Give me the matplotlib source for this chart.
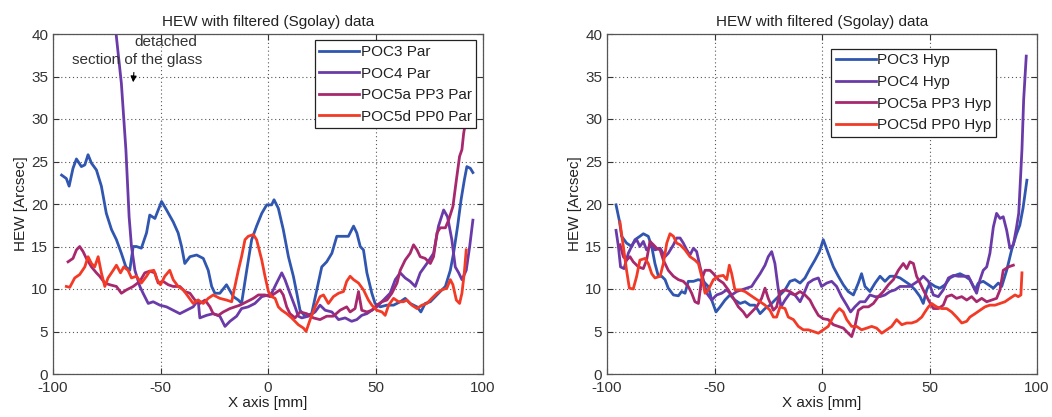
import matplotlib
matplotlib.use("Agg")
import matplotlib.pyplot as plt

plt.rcParams['font.family'] = ['Liberation Sans', 'DejaVu Sans']
plt.rcParams['axes.unicode_minus'] = False

# ---- left panel: parabola (Par) ----
par_poc3_x = [-96.0, -93.8, -92.5, -90.7, -89.1, -86.8, -85.2, -83.7, -82.1, -79.8, -77.5, -75.2,
              -72.8, -70.5, -68.2, -66.1, -64.3, -62.7, -61.2, -58.9, -56.5, -55.0, -52.6, -49.5,
              -47.2, -44.1, -41.8, -40.2, -38.7, -36.3, -33.2, -30.1, -27.8, -26.2, -24.7, -22.4,
              -19.3, -16.1, -13.8, -12.3, -9.9, -7.6, -5.3, -2.9, -0.6, 1.7, 2.8, 4.8, 7.1, 9.5,
              11.8, 13.4, 14.9, 17.2, 20.3, 22.7, 25.0, 27.3, 29.7, 32.0, 35.1, 37.4, 39.8, 41.3,
              42.9, 44.4, 46.0, 48.3, 49.8, 52.2, 55.3, 58.4, 61.5, 63.8, 66.1, 69.3, 71.1, 73.1,
              75.5, 77.8, 80.1, 82.5, 84.8, 86.3, 88.2, 89.8, 91.3, 92.5, 94.1, 95.3]
par_poc3_y = [23.4, 23.0, 22.1, 24.2, 25.3, 24.4, 24.6, 25.8, 24.8, 24.0, 22.1, 18.9,
              17.0, 15.8, 14.2, 12.6, 12.2, 15.0, 15.0, 14.8, 16.6, 18.7, 18.3, 20.3,
              19.3, 17.9, 16.6, 15.0, 13.0, 13.8, 14.0, 13.6, 12.2, 10.3, 9.5, 9.5,
              10.5, 9.1, 8.7, 8.3, 12.2, 15.8, 17.4, 18.9, 19.9, 19.9, 20.5, 19.5, 17.0, 13.8,
              11.5, 9.5, 7.5, 6.8, 7.1, 9.9, 12.6, 13.2, 14.2, 16.2, 16.2, 16.2, 17.4, 16.6,
              15.0, 14.6, 11.9, 9.5, 8.3, 7.9, 8.1, 8.1, 8.5, 8.9, 8.3, 7.9, 7.3, 8.3,
              8.5, 9.1, 9.7, 10.3, 12.2, 14.2, 17.4, 20.5, 22.8, 24.4, 24.2, 23.7]

par_poc4_x = [-71.5, -68.2, -66.1, -64.6, -63.5, -61.9, -59.6, -58.1, -55.7, -53.4, -50.3, -47.2,
              -44.1, -41.0, -37.9, -34.8, -32.5, -31.7, -28.6, -25.5, -22.4, -20.0, -17.7, -14.6,
              -12.3, -9.2, -6.1, -2.9, 0.2, 1.7, 4.0, 6.4, 7.9, 10.2, 12.6, 14.1, 15.7, 18.8,
              21.9, 24.2, 26.6, 29.7, 32.8, 35.9, 38.9, 41.3, 43.6, 46.0, 48.3, 50.6, 53.7, 56.8,
              59.2, 61.5, 63.8, 66.1, 68.5, 70.8, 73.9, 77.0, 79.3, 81.7, 83.5, 85.5, 87.1, 88.7,
              90.2, 92.2, 93.8, 95.3]
par_poc4_y = [42.0, 34.2, 26.4, 18.5, 15.0, 12.2, 10.3, 9.5, 8.3, 8.5, 8.1, 7.9,
              7.5, 7.1, 7.5, 7.9, 8.7, 6.6, 6.9, 7.1, 6.8, 5.6, 6.2, 6.8,
              7.7, 7.9, 8.3, 9.1, 9.3, 9.5, 10.7, 11.9, 11.1, 9.5, 7.9, 6.8, 6.6, 6.8,
              7.3, 8.1, 7.5, 7.3, 6.4, 6.6, 6.2, 6.4, 6.9, 7.1, 7.5, 7.9, 8.7, 9.5,
              11.1, 11.9, 11.3, 10.9, 10.3, 11.9, 13.0, 14.2, 17.4, 19.3, 18.5, 15.8, 12.6, 11.9,
              11.1, 12.2, 15.0, 18.1]

par_poc5a_x = [-93.0, -90.7, -89.1, -87.6, -86.0, -84.5, -82.1, -79.8, -78.3, -75.9, -73.6, -70.5,
               -68.2, -65.8, -62.7, -59.6, -57.3, -55.0, -52.6, -51.1, -48.8, -46.4, -44.1, -41.0,
               -38.7, -36.3, -34.0, -31.7, -29.3, -27.0, -25.5, -23.1, -20.8, -17.7, -15.4, -13.0,
               -9.9, -6.8, -4.5, -1.4, 0.9, 3.3, 5.6, 7.1, 8.7, 10.2, 12.6, 14.9, 18.0, 21.1,
               24.2, 27.3, 30.4, 33.5, 36.6, 38.2, 40.5, 42.1, 43.6, 46.0, 48.3, 50.6, 53.0, 55.3,
               57.6, 60.0, 61.5, 63.8, 66.1, 67.7, 69.3, 70.8, 73.1, 75.5, 77.0, 78.6, 80.1, 82.5,
               84.0, 86.0, 87.6, 89.1, 90.2, 91.0, 91.8, 92.6]
par_poc5a_y = [13.2, 13.6, 14.6, 15.0, 14.4, 13.6, 12.6, 11.9, 11.5, 10.7, 10.5, 10.3,
               9.5, 9.9, 10.3, 10.9, 11.9, 12.1, 11.9, 10.7, 10.9, 10.5, 10.3, 10.3,
               9.7, 9.5, 8.7, 8.3, 8.7, 7.9, 7.1, 6.9, 7.3, 7.7, 7.9, 8.1,
               8.5, 8.9, 9.3, 9.3, 9.1, 9.5, 9.9, 9.3, 7.9, 7.1, 6.6, 7.3, 7.1, 6.6,
               6.4, 6.8, 6.8, 7.5, 7.9, 7.3, 7.7, 9.7, 7.5, 7.3, 7.5, 8.1, 8.5, 8.7,
               9.5, 10.7, 12.2, 13.4, 14.2, 15.2, 14.6, 13.8, 13.6, 13.0, 13.8, 16.6, 17.2, 17.2,
               18.1, 19.7, 22.8, 25.6, 26.4, 28.3, 29.5, 32.0]

par_poc5d_x = [-93.8, -92.2, -89.9, -87.6, -85.2, -83.7, -82.1, -80.6, -79.0, -77.5, -75.9, -74.4,
               -72.0, -70.5, -68.6, -67.1, -65.1, -63.5, -61.2, -58.9, -56.5, -55.0, -53.1, -51.6,
               -50.0, -48.0, -45.7, -44.1, -41.8, -39.4, -37.1, -34.8, -32.5, -30.1, -27.8, -25.5,
               -22.4, -19.3, -16.9, -15.4, -13.8, -12.3, -10.7, -9.2, -6.8, -5.3, -2.9, -1.4, 0.2,
               1.7, 3.3, 4.8, 6.4, 8.7, 11.0, 14.1, 16.5, 17.7, 19.6, 21.9, 24.2, 25.8, 28.1,
               30.4, 32.8, 35.1, 36.6, 38.2, 39.8, 42.1, 44.4, 46.7, 48.3, 50.6, 53.0, 54.5, 56.1,
               58.4, 60.7, 63.0, 64.6, 66.9, 69.3, 71.6, 73.9, 76.2, 78.6, 80.9, 83.2, 84.8, 86.0,
               87.6, 89.1, 90.2, 91.3, 92.2]
par_poc5d_y = [10.3, 10.2, 11.3, 11.7, 12.6, 13.8, 13.0, 12.6, 13.8, 11.9, 10.3, 11.3,
               12.2, 12.8, 11.9, 12.6, 12.2, 11.3, 11.5, 10.7, 11.5, 12.1, 12.2, 11.1,
               10.5, 11.5, 12.2, 11.1, 10.3, 9.9, 9.1, 8.3, 8.7, 8.3, 8.9, 9.3,
               8.9, 8.7, 8.5, 10.3, 12.2, 13.8, 15.8, 16.2, 16.4, 15.8, 13.4, 11.5, 9.7,
               9.1, 8.9, 7.9, 7.5, 7.1, 6.6, 5.8, 5.4, 5.0, 6.4, 7.9, 9.1, 9.3, 8.3,
               9.1, 9.5, 9.7, 10.9, 11.5, 11.1, 10.7, 9.9, 8.7, 8.1, 7.5, 7.3, 6.9, 8.1,
               8.9, 8.5, 8.5, 8.7, 8.1, 7.7, 8.1, 8.3, 8.9, 9.5, 9.9, 10.1, 11.1, 10.5,
               8.7, 8.3, 9.5, 11.9, 14.6]

# ---- right panel: hyperbola (Hyp) ----
hyp_poc3_x = [-95.8, -94.3, -93.2, -90.9, -88.5, -87.0, -84.7, -83.1, -80.8, -79.2, -77.7, -76.1,
              -74.6, -73.0, -71.5, -69.1, -66.8, -65.3, -63.7, -62.2, -59.8, -57.5, -55.2, -52.9,
              -51.3, -49.3, -47.4, -45.1, -42.8, -40.5, -38.1, -35.8, -33.5, -31.2, -28.8, -26.5,
              -24.2, -21.9, -19.5, -17.2, -14.9, -12.6, -10.2, -7.9, -5.6, -3.3, -1.2, 0.6, 2.9,
              5.3, 7.6, 9.9, 12.2, 14.6, 16.9, 18.4, 20.0, 22.3, 24.7, 27.0, 29.3, 31.6, 34.0,
              36.3, 38.6, 40.9, 43.3, 45.6, 47.1, 48.7, 50.2, 52.6, 54.9, 57.2, 59.5, 61.9, 64.2,
              66.5, 68.8, 71.2, 72.7, 75.0, 77.4, 79.7, 82.0, 83.6, 85.9, 88.2, 90.5, 92.0, 93.5,
              95.3]
hyp_poc3_y = [19.9, 18.1, 16.2, 15.4, 15.0, 15.8, 16.2, 16.5, 16.2, 15.0, 13.0, 11.5,
              11.5, 11.1, 10.1, 9.3, 9.2, 9.7, 9.5, 10.9, 10.9, 11.1, 10.9, 10.3,
              8.7, 7.3, 7.9, 8.7, 9.3, 8.7, 8.3, 8.5, 8.1, 8.1, 7.1, 7.7,
              8.1, 8.7, 9.3, 9.9, 10.9, 11.1, 10.7, 11.3, 12.4, 13.4, 14.4, 15.8, 14.2,
              12.6, 11.5, 10.5, 9.7, 9.3, 10.7, 11.8, 10.3, 9.7, 10.7, 11.5, 10.9, 11.5, 11.5,
              11.3, 10.9, 10.5, 9.9, 9.1, 8.3, 9.9, 10.7, 10.3, 10.1, 10.5, 11.3, 11.6, 11.8,
              11.5, 11.1, 9.9, 10.7, 10.9, 10.5, 10.1, 10.7, 10.3, 12.2, 14.6, 16.5, 17.5, 19.5,
              22.8]

hyp_poc4_x = [-95.8, -94.7, -93.7, -92.1, -90.1, -87.8, -86.2, -84.7, -83.1, -81.6, -79.2, -77.7,
              -75.3, -73.0, -71.5, -69.1, -67.6, -66.0, -64.5, -62.9, -61.4, -59.8, -58.3, -56.7,
              -55.2, -53.6, -51.3, -49.0, -46.7, -44.3, -42.0, -39.7, -37.4, -35.0, -32.7, -31.2,
              -28.8, -26.5, -25.0, -23.4, -21.9, -20.3, -19.1, -17.2, -14.9, -12.6, -10.2, -8.7,
              -6.4, -4.0, -1.7, -0.2, 2.2, 4.5, 6.8, 9.1, 11.5, 13.3, 15.3, 17.7, 20.0, 22.3,
              24.7, 27.0, 29.3, 31.6, 34.0, 36.3, 38.6, 40.9, 43.3, 45.6, 47.1, 49.5, 51.8, 54.1,
              56.4, 58.8, 61.1, 63.4, 65.7, 68.1, 70.4, 71.9, 73.5, 75.0, 76.6, 78.1, 79.7, 81.2,
              82.8, 84.3, 85.9, 87.4, 89.0, 90.5, 91.5, 93.0, 93.8, 95.0]
hyp_poc4_y = [16.9, 15.0, 12.6, 12.4, 14.2, 15.4, 15.8, 15.0, 15.6, 14.6, 15.2, 14.6,
              14.8, 13.8, 14.2, 15.2, 16.0, 16.0, 15.4, 14.6, 14.0, 14.8, 14.4, 12.6,
              11.1, 9.5, 8.7, 9.3, 9.5, 9.9, 9.3, 9.7, 9.9, 10.1, 10.3, 10.9,
              11.8, 12.8, 13.8, 14.4, 13.0, 9.9, 7.9, 8.7, 9.5, 9.3, 8.5, 9.3,
              10.7, 11.1, 11.3, 10.3, 10.7, 10.9, 10.3, 9.1, 8.1, 7.3, 7.9, 8.5, 8.5, 9.3,
              9.1, 9.1, 9.3, 9.7, 9.9, 10.3, 10.3, 10.3, 10.7, 11.1, 11.5, 10.9, 9.3, 9.1,
              9.9, 11.3, 11.6, 11.5, 11.5, 11.5, 10.3, 9.5, 11.1, 12.2, 12.6, 14.2, 17.3, 18.9,
              18.3, 18.5, 16.9, 14.8, 15.2, 17.3, 18.9, 26.4, 32.3, 37.4]

hyp_poc5a_x = [-93.9, -92.4, -90.9, -89.3, -87.8, -85.4, -83.1, -81.6, -80.0, -78.4, -76.9, -75.3,
               -73.8, -71.5, -69.1, -66.8, -64.5, -62.2, -60.6, -59.1, -57.5, -56.0, -54.4, -52.1,
               -50.5, -48.2, -45.9, -43.6, -41.2, -38.9, -36.6, -35.0, -32.7, -30.4, -28.1, -26.5,
               -25.0, -22.6, -21.1, -19.5, -17.2, -14.9, -12.6, -10.2, -7.9, -5.6, -4.0, -1.7, 0.6,
               2.9, 5.3, 7.6, 9.9, 12.2, 13.8, 15.3, 16.9, 19.2, 21.6, 23.9, 26.2, 28.5, 30.9,
               33.2, 35.5, 37.8, 39.4, 40.9, 42.5, 44.0, 45.6, 47.1, 49.5, 51.8, 54.1, 56.4, 58.0,
               60.3, 62.6, 65.0, 67.3, 69.6, 71.9, 74.3, 76.6, 78.9, 81.2, 82.8, 84.3, 86.7, 89.0]
hyp_poc5a_y = [15.2, 13.8, 13.4, 13.8, 13.2, 12.6, 12.4, 13.4, 15.6, 15.2, 14.8, 14.6,
               13.4, 12.2, 11.5, 11.1, 10.9, 10.3, 9.5, 8.5, 8.3, 11.1, 12.2, 12.2,
               11.8, 11.1, 10.7, 9.9, 8.9, 7.9, 7.3, 6.7, 7.3, 7.9, 8.9, 10.1,
               8.9, 7.5, 7.9, 9.7, 9.9, 9.7, 9.3, 9.7, 9.3, 8.7, 7.9, 6.9, 6.5,
               6.4, 5.8, 5.6, 5.4, 4.8, 4.4, 5.6, 7.5, 7.9, 7.9, 8.3, 9.1, 9.7, 10.5,
               11.1, 12.2, 13.0, 12.4, 13.2, 13.0, 11.5, 10.7, 9.9, 8.7, 7.7, 7.7, 8.1, 9.1,
               9.3, 8.9, 9.1, 8.7, 9.1, 8.5, 8.9, 8.5, 8.7, 8.9, 9.9, 12.2, 12.6, 12.8]

hyp_poc5d_x = [-94.0, -92.4, -90.9, -89.6, -87.8, -86.2, -84.7, -82.3, -80.8, -79.2, -77.7, -75.3,
               -73.8, -72.2, -70.7, -69.1, -67.6, -66.0, -63.7, -61.4, -59.1, -57.5, -56.0, -54.4,
               -52.9, -50.5, -48.2, -45.9, -44.3, -43.1, -42.0, -40.5, -38.1, -35.8, -33.5, -31.2,
               -28.8, -26.5, -24.2, -22.6, -21.1, -19.5, -17.2, -15.7, -13.3, -11.0, -8.7, -6.4,
               -4.0, -1.7, 0.6, 2.9, 4.5, 6.0, 8.1, 9.9, 11.5, 13.8, 16.1, 18.4, 20.8, 23.1, 25.4,
               27.8, 30.1, 32.4, 34.7, 37.1, 39.4, 41.7, 44.0, 46.4, 47.9, 49.5, 51.0, 53.3, 55.7,
               58.0, 60.3, 62.6, 65.0, 67.3, 68.8, 71.2, 73.5, 75.8, 78.1, 80.5, 82.8, 85.1, 87.4,
               89.8, 91.3, 92.5, 93.0]
hyp_poc5d_y = [17.9, 15.0, 12.2, 10.1, 10.0, 11.5, 13.4, 13.6, 13.0, 11.8, 11.3, 11.5,
               13.0, 15.4, 16.5, 16.2, 15.4, 15.2, 14.6, 13.8, 13.4, 13.0, 11.5, 9.5,
               9.9, 11.1, 11.5, 11.6, 11.1, 12.8, 11.8, 9.9, 9.9, 9.7, 9.3, 8.9,
               8.5, 8.1, 7.5, 6.7, 6.7, 7.9, 7.7, 6.7, 6.4, 5.6, 5.2, 5.2,
               5.0, 4.8, 5.2, 5.6, 6.4, 7.1, 7.7, 7.3, 6.4, 5.6, 5.6, 5.2, 5.4, 5.6, 5.4,
               4.8, 5.2, 5.6, 6.4, 5.8, 6.0, 6.0, 6.2, 6.7, 7.3, 7.9, 8.3, 7.9, 7.7,
               7.7, 7.3, 6.7, 6.0, 6.2, 6.7, 7.1, 7.5, 7.9, 8.1, 8.1, 8.3, 8.5, 8.9,
               9.3, 9.1, 9.3, 11.9]

colors = ['#3056B0', '#6A3BA8', '#A8286E', '#F23A26']
par_labels = ['POC3 Par', 'POC4 Par', 'POC5a PP3 Par', 'POC5d PP0 Par']
hyp_labels = ['POC3 Hyp', 'POC4 Hyp', 'POC5a PP3 Hyp', 'POC5d PP0 Hyp']
x_ticks = [-100, -50, 0, 50, 100]
y_ticks = [0, 5, 10, 15, 20, 25, 30, 35, 40]


def style_axes(ax):
    """matlab-ish look: inner ticks on all sides, dotted grid"""
    ax.set_xlim(-100, 100)
    ax.set_ylim(0, 40)
    ax.set_xticks(x_ticks)
    ax.set_yticks(y_ticks)
    ax.grid(True, linestyle=(0, (1, 2.5)), color='#555555', linewidth=0.8)
    ax.tick_params(direction='in', top=True, right=True, length=4,
                   labelsize=11, colors='#333333', labelcolor='#333333')
    ax.tick_params(axis='x', pad=5)
    for s in ax.spines.values():
        s.set_color('#555555')
        s.set_linewidth(0.9)
    ax.set_title('HEW with filtered (Sgolay) data', fontsize=11, color='#222222', pad=6)
    ax.set_xlabel('X axis [mm]', fontsize=11, color='#222222', labelpad=1)
    ax.set_ylabel('HEW [Arcsec]', fontsize=11, color='#222222', labelpad=2)


fig = plt.figure(figsize=(10.52, 4.17), dpi=100)
ax1 = fig.add_axes([53 / 1052, 43 / 417, 430 / 1052, 340 / 417])
ax2 = fig.add_axes([607 / 1052, 43 / 417, 430 / 1052, 340 / 417])

par_data = [(par_poc3_x, par_poc3_y), (par_poc4_x, par_poc4_y),
            (par_poc5a_x, par_poc5a_y), (par_poc5d_x, par_poc5d_y)]
hyp_data = [(hyp_poc3_x, hyp_poc3_y), (hyp_poc4_x, hyp_poc4_y),
            (hyp_poc5a_x, hyp_poc5a_y), (hyp_poc5d_x, hyp_poc5d_y)]

for (xs, ys), c, lab in zip(par_data, colors, par_labels):
    ax1.plot(xs, ys, color=c, lw=2.0, label=lab)
for (xs, ys), c, lab in zip(hyp_data, colors, hyp_labels):
    ax2.plot(xs, ys, color=c, lw=2.0, label=lab)

for ax in (ax1, ax2):
    style_axes(ax)

leg_kw = dict(fontsize=11, frameon=True, fancybox=False, framealpha=1.0,
              edgecolor='#222222', handlelength=2.6, handletextpad=0.1,
              labelspacing=0.5, borderpad=0.3, borderaxespad=0.3)
l1 = ax1.legend(loc='upper right', bbox_to_anchor=(0.995, 0.995), **leg_kw)
l2 = ax2.legend(loc='upper right', bbox_to_anchor=(0.915, 0.97), **leg_kw)
for l in (l1, l2):
    l.get_frame().set_linewidth(0.9)
    for t in l.get_texts():
        t.set_color('#222222')

# annotation on the left panel
ax1.text(-47.5, 39.1, 'detached', ha='center', va='center', fontsize=11, color='#333333')
ax1.text(-61.0, 36.9, 'section of the glass', ha='center', va='center', fontsize=11, color='#333333')
ax1.annotate('', xy=(-62.8, 34.0), xytext=(-62.3, 35.8),
             arrowprops=dict(arrowstyle='-|>', color='black', lw=0.8, mutation_scale=9))

fig.savefig('out.png', dpi=100)
